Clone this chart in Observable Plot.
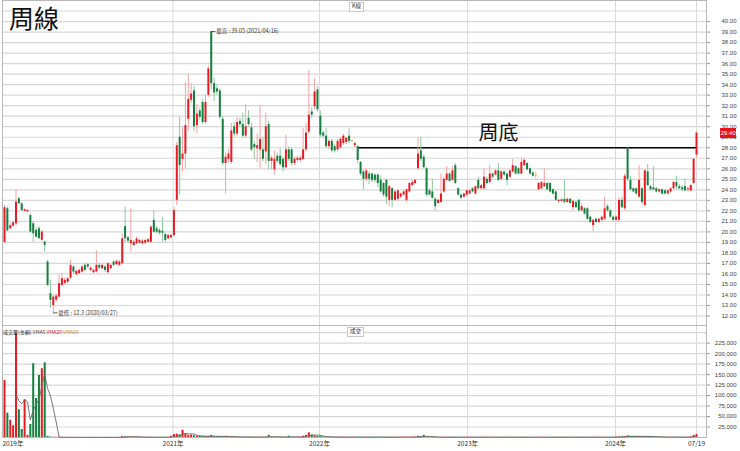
<!DOCTYPE html>
<html><head><meta charset="utf-8">
<script src="https://cdn.jsdelivr.net/npm/d3@7"></script>
<script src="https://cdn.jsdelivr.net/npm/@observablehq/plot@0.6"></script>
<style>
body{margin:0;background:#fff;}
#wrap{position:relative;width:740px;height:451px;font-family:"Liberation Sans",Arial,sans-serif;overflow:hidden;}
#wrap svg{display:block;}
.ov{position:absolute;white-space:nowrap;line-height:1;}
.box{border:1px solid #c8c8c8;background:#fff;font-size:5.5px;padding:1px 2px;font-family:"Noto Sans CJK TC",sans-serif;color:#333;}
</style></head><body>
<div id="wrap"></div>
<script>
// ---- weekly OHLC ----
const opens = [
19.0,22.2,20.3,20.55,20.77,23.15,22.67,21.95,21.9,21.56,
20.77,20.14,20.3,19.2,19.03,17.13,14.13,13.0,13.5,13.8,
14.9,15.1,15.2,15.6,16.66,15.93,16.03,16.18,16.82,16.88,
16.34,16.12,16.18,16.82,16.5,16.66,16.12,16.5,17.13,16.88,
16.82,16.97,20.5,19.44,18.87,18.7,18.87,18.93,18.87,18.93,
19.02,19.02,21.08,20.29,20.13,20.05,19.75,19.34,19.44,19.66,
23.0,29.0,26.9,27.4,30.7,32.5,33.4,30.1,31.5,32.3,
30.4,33.0,39.0,34.1,33.6,33.4,30.7,26.5,26.9,26.6,
30.0,29.3,30.5,30.2,29.1,30.8,29.9,28.3,27.9,27.8,
27.8,27.6,30.2,26.7,25.9,27.2,27.2,26.9,26.1,27.8,
27.8,26.5,26.8,26.8,26.9,27.8,29.5,31.4,31.9,33.5,
31.0,29.4,29.1,28.1,28.6,28.1,27.8,28.0,28.4,28.5,
29.1,28.6,28.2,28.1,26.6,25.7,25.0,25.5,25.5,25.4,
25.4,24.9,24.6,24.9,23.0,24.1,23.0,23.1,23.3,23.5,
23.0,23.8,24.4,24.6,26.0,27.7,27.1,26.0,23.9,23.8,
23.1,22.7,22.8,23.8,24.9,25.5,24.9,26.3,24.1,23.5,
23.3,23.5,23.6,24.1,23.6,24.9,24.1,24.1,25.0,24.7,
25.5,25.4,25.8,25.0,25.7,25.5,25.2,25.7,26.2,26.0,
25.5,26.3,26.5,26.0,25.6,25.3,24.0,24.1,24.3,24.6,
24.6,24.0,23.8,22.9,22.9,23.1,22.8,23.1,22.3,22.8,
23.0,22.0,22.2,22.2,21.4,20.6,21.2,20.9,21.1,21.2,
22.4,22.0,21.4,21.1,21.1,23.0,22.2,28.0,24.9,24.1,
24.1,23.3,24.1,22.5,25.7,24.3,24.2,24.1,23.8,24.0,
23.9,23.6,23.8,24.1,24.7,24.3,24.2,24.3,24.0,23.9,
24.6,27.3];
const highs = [
22.5,22.4,20.8,21.0,24.0,23.3,22.8,22.2,22.1,21.7,
21.0,20.4,20.5,20.1,19.1,17.3,15.39,14.0,14.1,15.87,
16.0,15.6,15.7,17.3,16.8,16.4,16.5,16.8,17.0,17.0,
16.7,16.5,18.2,17.0,16.9,16.8,17.1,16.9,17.3,17.3,
17.3,19.8,22.35,19.6,22.2,19.2,19.5,19.3,19.3,19.3,
19.4,20.6,22.0,20.5,20.3,21.4,19.9,19.8,19.8,22.3,
28.5,30.9,29.9,34.2,35.0,34.1,33.8,32.1,31.8,32.6,
33.0,35.8,39.05,34.6,34.0,33.6,31.0,27.5,27.8,30.3,
30.4,30.9,30.8,31.3,32.1,31.5,30.3,28.6,29.3,32.0,
29.0,31.3,30.5,27.2,27.7,27.5,27.9,27.1,29.2,28.1,
28.0,27.1,27.2,27.2,29.8,30.3,35.3,31.8,34.6,33.8,
31.5,29.6,29.8,28.8,28.8,28.3,28.8,29.0,29.3,29.0,
29.8,28.7,28.5,28.2,26.7,25.9,26.0,25.7,25.6,25.5,
25.5,25.3,24.7,25.0,24.4,24.2,23.9,24.0,23.7,23.9,
24.1,24.7,24.9,25.0,29.0,29.0,27.3,26.1,24.1,25.0,
23.3,23.1,25.5,25.2,26.2,25.6,26.2,26.5,24.2,23.6,
23.7,24.0,24.0,24.2,24.3,25.2,24.5,26.0,25.2,26.3,
25.6,25.9,26.5,25.8,25.8,25.6,25.9,26.9,26.3,26.1,
27.0,27.0,26.6,26.1,25.7,25.7,24.7,24.8,26.0,24.7,
24.7,24.1,23.9,23.1,23.1,24.9,23.2,23.2,23.0,22.9,
23.1,22.7,22.3,22.3,21.5,21.2,21.3,21.3,21.5,23.3,
22.6,22.1,21.5,21.5,23.2,23.3,25.5,28.0,25.3,24.2,
24.2,26.3,24.2,25.9,26.4,24.4,26.2,24.2,24.1,24.1,
24.0,24.0,24.2,24.8,25.3,24.5,24.4,25.0,24.3,24.5,
27.0,29.4];
const lows = [
18.9,20.0,20.2,20.4,20.6,22.6,21.9,21.9,21.8,19.9,
19.0,19.4,19.3,19.1,18.08,14.8,12.7,12.3,13.3,13.7,
14.8,15.0,15.1,15.5,16.0,15.8,15.9,16.1,16.2,16.5,
16.2,16.0,16.1,16.4,16.4,16.1,16.0,16.4,16.7,16.8,
16.7,16.9,19.0,18.9,18.07,18.6,18.8,18.8,18.8,18.8,
18.9,18.9,19.9,19.8,19.7,19.0,19.0,19.2,19.3,19.5,
22.5,23.5,25.7,26.0,29.6,32.2,29.5,29.3,30.6,30.2,
30.2,32.8,33.5,32.4,33.0,30.7,26.3,23.6,26.6,26.4,
29.0,29.1,29.9,28.9,28.9,30.0,27.6,26.9,26.6,26.0,
26.7,26.4,25.9,25.9,25.4,26.5,26.2,25.7,26.0,26.7,
26.3,26.3,26.6,26.6,26.8,27.6,29.3,30.8,31.6,31.4,
29.0,28.9,27.9,27.8,27.5,27.5,27.6,27.9,28.2,28.3,
28.4,28.5,28.0,26.5,25.3,24.0,24.8,24.5,24.7,24.7,
24.2,23.7,23.3,22.6,22.4,22.3,22.9,23.0,23.2,23.4,
22.8,23.7,24.3,24.5,25.9,26.7,26.0,23.3,23.4,23.1,
22.0,22.6,22.7,23.7,24.8,24.7,24.8,24.5,23.4,23.1,
23.2,23.4,23.5,23.7,23.5,24.0,24.0,24.0,24.5,24.6,
25.1,25.3,24.8,24.9,25.3,24.4,25.1,25.6,25.4,25.4,
25.4,26.2,25.8,25.4,25.2,25.0,23.9,24.0,24.2,23.9,
23.7,23.5,22.9,22.7,22.8,22.7,22.7,22.6,22.0,22.2,
21.9,21.9,21.6,21.1,20.8,20.0,20.8,20.8,21.0,21.1,
21.9,21.3,21.0,21.0,21.0,22.2,22.0,24.8,23.9,23.7,
23.5,23.2,22.6,22.4,24.3,23.9,23.9,23.7,23.7,23.5,
23.5,23.5,23.7,24.0,24.0,24.0,23.8,23.8,23.8,23.8,
24.5,27.0];
const closes = [
22.3,20.1,20.6,20.87,22.83,22.67,22.04,22.1,22.04,19.98,
19.82,19.5,19.35,19.98,18.72,14.92,13.49,13.8,13.9,15.08,
15.55,15.4,15.55,16.8,16.18,16.25,16.34,16.66,16.34,16.66,
16.56,16.34,16.82,16.56,16.82,16.34,16.97,16.82,16.82,17.2,
17.13,19.35,19.35,19.12,19.18,19.02,19.34,19.18,19.12,19.18,
19.25,20.45,19.97,19.97,19.88,19.88,19.18,19.66,19.66,22.03,
28.2,26.3,27.4,30.1,32.6,33.1,30.0,31.2,30.9,30.4,
32.3,35.5,34.1,33.2,33.3,30.9,26.5,27.1,27.4,29.6,
29.3,30.4,30.2,29.1,30.0,30.2,27.8,28.0,28.2,28.8,
26.9,30.0,26.7,27.0,26.9,26.7,26.4,26.1,27.8,26.9,
26.5,26.9,27.0,27.0,27.8,29.4,31.1,31.1,33.3,31.6,
29.2,29.1,28.1,28.6,27.7,27.7,28.6,28.8,29.1,28.9,
28.6,28.6,28.4,26.8,25.5,25.0,25.8,25.0,24.9,24.9,
24.6,23.8,23.5,23.3,24.3,23.0,23.8,23.9,23.6,23.8,
24.0,24.6,24.7,24.9,27.4,26.9,26.1,23.5,23.5,23.2,
22.4,23.0,23.6,25.0,25.5,24.8,25.8,24.6,23.5,23.2,
23.6,23.9,23.9,23.8,24.3,24.1,24.4,25.2,24.6,25.5,
25.2,25.8,24.9,25.7,25.4,24.9,25.8,26.3,25.5,25.5,
26.6,26.8,25.9,25.5,25.3,25.3,24.6,24.7,24.6,24.0,
23.8,23.6,23.0,23.0,23.05,22.8,23.1,22.7,22.9,22.3,
22.0,22.4,21.7,21.2,20.9,21.1,20.9,21.2,21.4,22.2,
22.0,21.4,21.1,21.4,23.0,22.3,25.3,25.0,24.0,23.8,
23.6,24.9,22.8,25.8,24.4,24.0,24.0,23.8,24.0,23.6,
23.6,23.9,24.1,24.7,24.3,24.1,24.0,23.9,24.1,24.4,
26.9,29.4];
// weekly volume (amount)
const volumes = [
136000,58000,41000,28000,247000,66000,19000,90000,5000,31000,
176000,93000,148000,164000,178000,3000,1200,800,600,500,
400,300,300,400,300,300,200,200,300,300,
300,400,300,300,200,300,300,200,300,300,
400,2500,1800,2000,1500,1500,1200,1200,600,600,
600,600,600,600,600,600,600,600,3000,7000,
8000,6000,17000,9000,5000,6000,4000,3000,3000,2500,
2500,3000,5000,2500,2000,2000,2000,3000,2000,1500,
1500,1200,1000,1000,1000,1000,1000,800,800,800,
800,1000,5000,1500,1000,800,800,800,1200,3000,
1200,800,800,1000,3000,5000,11000,6000,4000,3000,
2500,1500,1200,1000,1000,900,900,900,900,900,
900,800,800,800,800,800,800,800,800,800,
800,800,800,800,800,800,800,800,800,800,
800,800,1000,1200,3000,2500,5000,1500,1000,800,
800,700,700,700,700,700,700,700,700,700,
700,700,700,700,700,700,700,700,700,700,
700,700,700,700,700,700,700,700,700,700,
700,700,700,700,700,700,700,700,700,700,
700,700,700,700,700,700,700,700,700,700,
700,700,700,700,700,700,700,700,700,700,
700,700,700,1200,1500,2000,2500,4000,3000,2500,
2500,2500,2500,2500,2500,2500,2000,1500,1000,800,
800,800,800,800,800,800,800,800,800,1500,
5000,7000];

// axis ticks / labels
const priceTicks = d3.range(12, 41);        // 12.00 … 40.00
const priceGrid = d3.range(12, 42);
const volTicks = d3.range(25000, 225001, 25000);
const volGrid = d3.range(25000, 250001, 25000);
const timeLabels = ["2021年", "2022年", "2023年", "2024年", "07/19"];
const timeAt = [58.7, 109.7, 161.3, 212.8, 241];   // bar index of the period boundary
const firstLabel = "2019年";
const extremeDates = ["2021/04/16", "2020/03/27"];
const bottomLine = [{from: 123, to: 241, price: 28.0}];
const notes = [{at: 172, price: 29.35, text: "周底"}];

const N = opens.length;
const bars = d3.range(N).map(i => ({i, o: opens[i], h: highs[i], l: lows[i], c: closes[i], v: volumes[i]}));
const dir = d => d.c > d.o ? "up" : d.c < d.o ? "down" : "flat";
const BODY = {up: "#ea1a22", down: "#13803d", flat: "#f2a444"};
const WICK = {up: "#f3a1a4", down: "#8fc7a1", flat: "#f6c98c"};
const ticks = timeAt.map((at, k) => ({at, label: timeLabels[k]}));
const hiIdx = d3.maxIndex(highs), loIdx = d3.minIndex(lows);
const extremes = [
  {i: hiIdx, p: highs[hiIdx], text: `最高 : ${highs[hiIdx]} (${extremeDates[0]})`},
  {i: loIdx, p: lows[loIdx], text: `最低 : ${lows[loIdx]} (${extremeDates[1]})`}
];
const FONT = "Liberation Sans, Arial, sans-serif";
const CJK = "Noto Sans CJK TC, sans-serif";

const price = Plot.plot({
  width: 740, height: 325,
  marginLeft: 2, marginRight: 34, marginTop: 0, marginBottom: 0,
  x: {type: "linear", domain: [0, N - 1], range: [4, 696], axis: null},
  y: {domain: [11.1, 42.0], axis: null, label: null},
  color: {type: "identity"},
  style: {fontFamily: FONT, background: "#fff", overflow: "visible"},
  marks: [
    Plot.ruleY(priceGrid, {stroke: "#d7d7d7", strokeWidth: 1.2}),
    Plot.ruleX(ticks, {x: "at", stroke: "#d9d9d9"}),
    Plot.frame({stroke: "#b8b8b8"}),
    Plot.axisY({anchor: "right", ticks: priceTicks, tickSize: 3, tickFormat: () => "", label: null, stroke: "#999"}),
    Plot.text(priceTicks, {y: d => d, text: d => d.toFixed(2), frameAnchor: "right", textAnchor: "end", dx: 30, fontSize: 6, fill: "#444"}),
    Plot.ruleY(bottomLine, {y: "price", x1: "from", x2: "to", stroke: "#000", strokeWidth: 1.5}),
    Plot.ruleX(bars, {x: "i", y1: "l", y2: "h", stroke: d => WICK[dir(d)], strokeWidth: 1}),
    Plot.ruleX(bars, {x: "i", y1: d => Math.min(d.o, d.c), y2: d => Math.max(d.o, d.c, Math.min(d.o, d.c) + 0.1), stroke: d => BODY[dir(d)], strokeWidth: 2}),
    Plot.ruleY(extremes, {y: "p", x1: "i", x2: d => d.i + 1.6, stroke: "#333", strokeWidth: 0.8}),
    Plot.text(extremes, {x: "i", y: "p", text: "text", dx: 5, textAnchor: "start", fontSize: 5.5, fill: "#333", fontFamily: CJK}),
    Plot.text(notes, {x: "at", y: "price", text: "text", fontSize: 20, fill: "#111", fontFamily: CJK})
  ]
});

const vol = Plot.plot({
  width: 740, height: 126,
  marginLeft: 2, marginRight: 34, marginTop: 0, marginBottom: 14,
  x: {type: "linear", domain: [0, N - 1], range: [4, 696], axis: null},
  y: {domain: [0, 267000], axis: null, label: null},
  color: {type: "identity"},
  style: {fontFamily: FONT, background: "#fff", overflow: "visible"},
  marks: [
    Plot.ruleY(volGrid, {stroke: "#d7d7d7", strokeWidth: 1.2}),
    Plot.ruleX(ticks, {x: "at", stroke: "#d9d9d9"}),
    Plot.frame({stroke: "#b8b8b8"}),
    Plot.axisY({anchor: "right", ticks: volTicks, tickSize: 3, tickFormat: () => "", label: null, stroke: "#999"}),
    Plot.text(volTicks, {y: d => d, text: d => d3.format(",")(d), frameAnchor: "right", textAnchor: "end", dx: 30, fontSize: 6, fill: "#444"}),
    Plot.ruleX(bars, {x: "i", y1: 0, y2: "v", stroke: d => BODY[dir(d) === "down" ? "down" : "up"], strokeWidth: 2}),
    Plot.lineY(bars, Plot.windowY({k: 5, anchor: "end", strict: true}, {x: "i", y: "v", stroke: "#6a6a6a", strokeWidth: 0.9})),
    Plot.text(ticks, {x: "at", text: "label", frameAnchor: "bottom", dy: 8, fontSize: 6.5, fill: "#333", fontFamily: CJK}),
    Plot.text([firstLabel], {x: 0, text: d => d, frameAnchor: "bottom", dy: 8, dx: -2, textAnchor: "start", fontSize: 6.5, fill: "#333", fontFamily: CJK})
  ]
});

const wrap = document.getElementById("wrap");
wrap.appendChild(price);
wrap.appendChild(vol);

function overlay(html, style) {
  const d = document.createElement("div");
  d.className = "ov";
  d.innerHTML = html;
  Object.assign(d.style, style);
  wrap.appendChild(d);
  return d;
}
overlay("周線", {left: "9px", top: "5px", fontSize: "25px", fontFamily: CJK, color: "#111"});
const kb = overlay("K線", {left: "349px", top: "2px"}); kb.className = "ov box";
const vb = overlay("成交", {left: "347px", top: "327px"}); vb.className = "ov box";
overlay('成交量(金額) <span style="color:#444">VMA5</span> <span style="color:#e01818">VMA20</span> <span style="color:#c8823c">VMA60</span>',
  {left: "3px", top: "329px", fontSize: "5px", fontFamily: CJK, color: "#222"});
const yPx = price.scale("y").apply(closes[N - 1]);
overlay(closes[N - 1].toFixed(2), {left: "720px", top: (yPx - 5) + "px", width: "16px", height: "10px", lineHeight: "10px",
  textAlign: "center", fontSize: "6px", color: "#fff", background: "#e8141c", fontFamily: FONT});
</script>
</body></html>
